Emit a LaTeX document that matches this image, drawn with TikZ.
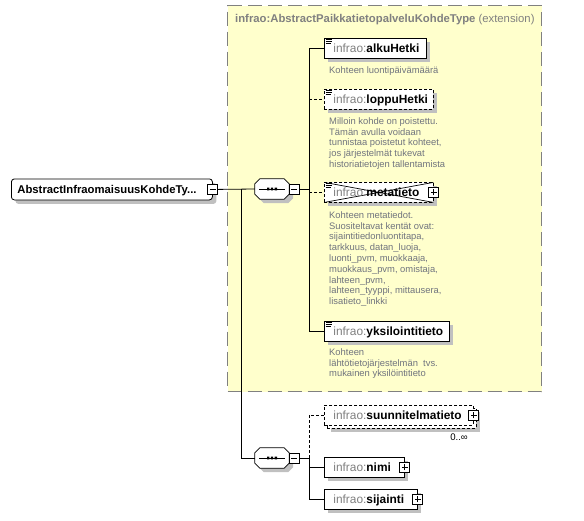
\documentclass[tikz,border=0pt]{standalone}
\usepackage{fontspec}
\setmainfont{Liberation Sans}
\usetikzlibrary{shadows,calc}
\definecolor{extfill}{RGB}{255,255,204}
\definecolor{extline}{RGB}{128,128,128}
\definecolor{pfxgray}{RGB}{128,128,128}
\definecolor{docgray}{RGB}{112,116,126}
\definecolor{shadowgray}{RGB}{192,192,192}
\newcommand\pfx{\textcolor{pfxgray}{infrao:}}
\newcommand\elname[1]{\hspace*{9pt}\pfx\textbf{#1}}
\newcommand\docicon[1]{\draw[docicon] ([xshift=1.5pt,yshift=-1.5pt]#1.north west) -- ++(6pt,0pt) ([xshift=1.5pt,yshift=-3.5pt]#1.north west) -- ++(6pt,0pt) ([xshift=1.5pt,yshift=-5.5pt]#1.north west) -- ++(5pt,0pt);}
\newcommand\compshape[1]{%
 \begin{scope}[transform canvas={xshift=4pt,yshift=-4pt}]
  \fill[shadowgray] ([xshift=5pt]#1.north west) -- ([xshift=-5pt]#1.north east) -- ([yshift=-5pt]#1.north east) -- ([yshift=5pt]#1.south east) -- ([xshift=-5pt]#1.south east) -- ([xshift=5pt]#1.south west) -- ([yshift=5pt]#1.south west) -- ([yshift=-5pt]#1.north west) -- cycle;
 \end{scope}
 \draw[line width=0.8pt, fill=white] ([xshift=5pt]#1.north west) -- ([xshift=-5pt]#1.north east) -- ([yshift=-5pt]#1.north east) -- ([yshift=5pt]#1.south east) -- ([xshift=-5pt]#1.south east) -- ([xshift=5pt]#1.south west) -- ([yshift=5pt]#1.south west) -- ([yshift=-5pt]#1.north west) -- cycle;
 \draw[line width=0.8pt] ([xshift=-13pt]#1.center) -- ([xshift=13pt]#1.center);
 \fill ([xshift=-5pt,yshift=-1.3pt]#1.center) rectangle ++(2.4pt,2.6pt)
       ([xshift=-1.2pt,yshift=-1.3pt]#1.center) rectangle ++(2.4pt,2.6pt)
       ([xshift=2.6pt,yshift=-1.3pt]#1.center) rectangle ++(2.4pt,2.6pt);
}
\tikzset{
  shad/.style={drop shadow={shadow xshift=4pt,shadow yshift=-4pt,fill=shadowgray,opacity=1}},
  extbox/.style={draw=extline, fill=extfill, line width=1pt, dash pattern=on 14pt off 6pt, anchor=north west, inner sep=0pt},
  ttl/.style={anchor=base west, inner sep=0pt, text=pfxgray, font=\fontsize{11.3}{13}\selectfont},
  mainbox/.style={draw=black, fill=white, line width=0.8pt, rounded corners=3pt, anchor=north west, inner sep=0pt, text height=10pt, text depth=2pt, align=left, font=\fontsize{11.3}{13}\selectfont\bfseries, shad},
  elem/.style={draw=black, fill=white, line width=0.8pt, anchor=north west, inner sep=0pt, minimum height=20pt, text height=10pt, text depth=2pt, align=left, font=\fontsize{11.9}{14}\selectfont},
  optelem/.style={elem, dash pattern=on 3pt off 2pt},
  doc/.style={anchor=north west, inner sep=0pt, align=left, text=docgray, font=\fontsize{9.4}{10.8}\selectfont},
  compbox/.style={minimum width=34pt, minimum height=20pt, inner sep=0pt},
  pmbox/.style={draw=black, fill=white, line width=0.7pt, minimum size=10pt, inner sep=0pt},
  minusbox/.style={pmbox, path picture={\draw[line width=0.8pt] ([xshift=-3pt]path picture bounding box.center) -- ([xshift=3pt]path picture bounding box.center);}},
  plusbox/.style={pmbox, path picture={\draw[line width=0.8pt] ([xshift=-3pt]path picture bounding box.center) -- ([xshift=3pt]path picture bounding box.center) ([yshift=-3pt]path picture bounding box.center) -- ([yshift=3pt]path picture bounding box.center);}},
  abstractx/.style={path picture={\draw[solid, line width=0.7pt] (path picture bounding box.north west) -- (path picture bounding box.south east) (path picture bounding box.south west) -- (path picture bounding box.north east);}},
  conn/.style={line width=0.8pt},
  optconn/.style={line width=0.8pt, dash pattern=on 3pt off 2pt},
  docicon/.style={line width=0.6pt, solid},
  card/.style={anchor=base east, inner sep=0pt, font=\fontsize{9.6}{11}\selectfont},
}
\begin{document}
\begin{tikzpicture}[x=1pt,y=-1pt]
\useasboundingbox (0,0) rectangle (584,520);
% extension area
\node[extbox, minimum width=314pt, minimum height=386pt] (ext) at (227,5) {};
\node[ttl] (exttitle) at (235,22) {\textbf{infrao:AbstractPaikkatietopalveluKohdeType} (extension)};
% main type
\node[mainbox, text width=201pt, minimum height=21pt] (main) at (11,178.5) {\hspace*{6pt}AbstractInfraomaisuusKohdeTy...};
% compositors
\node[compbox] (c1) at (272,189) {};
\node[compbox] (c2) at (272,458) {};
\compshape{c1}
\compshape{c2}
\coordinate (j) at (241,189);
\coordinate (s1) at (309,189);
\coordinate (s2) at (309,458);
% elements
\node[elem, shad, text width=102pt] (alku) at (324,38) {\elname{alkuHetki}};
\node[optelem, shad, text width=109pt] (loppu) at (324,89) {\elname{loppuHetki}};
\node[optelem, shad, abstractx, text width=109pt] (meta) at (324,182) {\elname{metatieto}};
\node[elem, shad, text width=125pt] (yks) at (324,321) {\elname{yksilointitieto}};
\node[optelem, shad, text width=149pt] (suunback) at (327,408) {};
\node[optelem, text width=149pt] (suun) at (324,405) {\elname{suunnitelmatieto}};
\node[elem, shad, text width=80pt] (nimi) at (324,457) {\elname{nimi}};
\node[elem, shad, text width=93pt] (sij) at (324,489) {\elname{sijainti}};
\docicon{alku}
\docicon{loppu}
\docicon{meta}
\docicon{yks}
% expand / collapse boxes
\node[minusbox] (m0) at (main.east) {};
\node[minusbox] (m1) at ([xshift=5pt]c1.east) {};
\node[minusbox] (m2) at ([xshift=5pt]c2.east) {};
\node[plusbox] (p1) at (meta.east) {};
\node[plusbox] (p2) at (suun.east) {};
\node[plusbox] (p3) at (nimi.east) {};
\node[plusbox] (p4) at (sij.east) {};
% documentation
\node[doc] (d1) at (329,65) {\rule{0pt}{8pt}Kohteen luontipäivämäärä};
\node[doc] (d2) at (329,116) {\rule{0pt}{8pt}Milloin kohde on poistettu.\\Tämän avulla voidaan\\tunnistaa poistetut kohteet,\\jos järjestelmät tukevat\\historiatietojen tallentamista};
\node[doc] (d3) at (329,210) {\rule{0pt}{8pt}Kohteen metatiedot.\\Suositeltavat kentät ovat:\\sijaintitiedonluontitapa,\\tarkkuus, datan\_luoja,\\luonti\_pvm, muokkaaja,\\muokkaus\_pvm, omistaja,\\lahteen\_pvm,\\lahteen\_tyyppi, mittausera,\\lisatieto\_linkki};
\node[doc] (d4) at (329,347) {\rule{0pt}{8pt}Kohteen\\lähtötietojärjestelmän\ \ tvs.\\mukainen yksilöintitieto};
\node[card] (card) at (468,440) {0..∞};
% connectors
\draw[conn] (m0.east) -- (c1.west);
\draw[conn] (j) |- (c2.west);
\draw[conn] (m1.east) -- (s1);
\draw[conn] (s1 |- alku.west) -- (s1 |- yks.west);
\draw[conn] (s1 |- alku.west) -- (alku.west);
\draw[optconn] (s1 |- loppu.west) -- (loppu.west);
\draw[optconn] (s1 |- meta.west) -- (meta.west);
\draw[conn] (s1 |- yks.west) -- (yks.west);
\draw[conn] (m2.east) -- (s2);
\draw[optconn] (s2) -- (s2 |- suun.west) -- (suun.west);
\draw[conn] (s2) -- (s2 |- sij.west) -- (sij.west);
\draw[conn] (s2 |- nimi.west) -- (nimi.west);
\end{tikzpicture}
\end{document}
